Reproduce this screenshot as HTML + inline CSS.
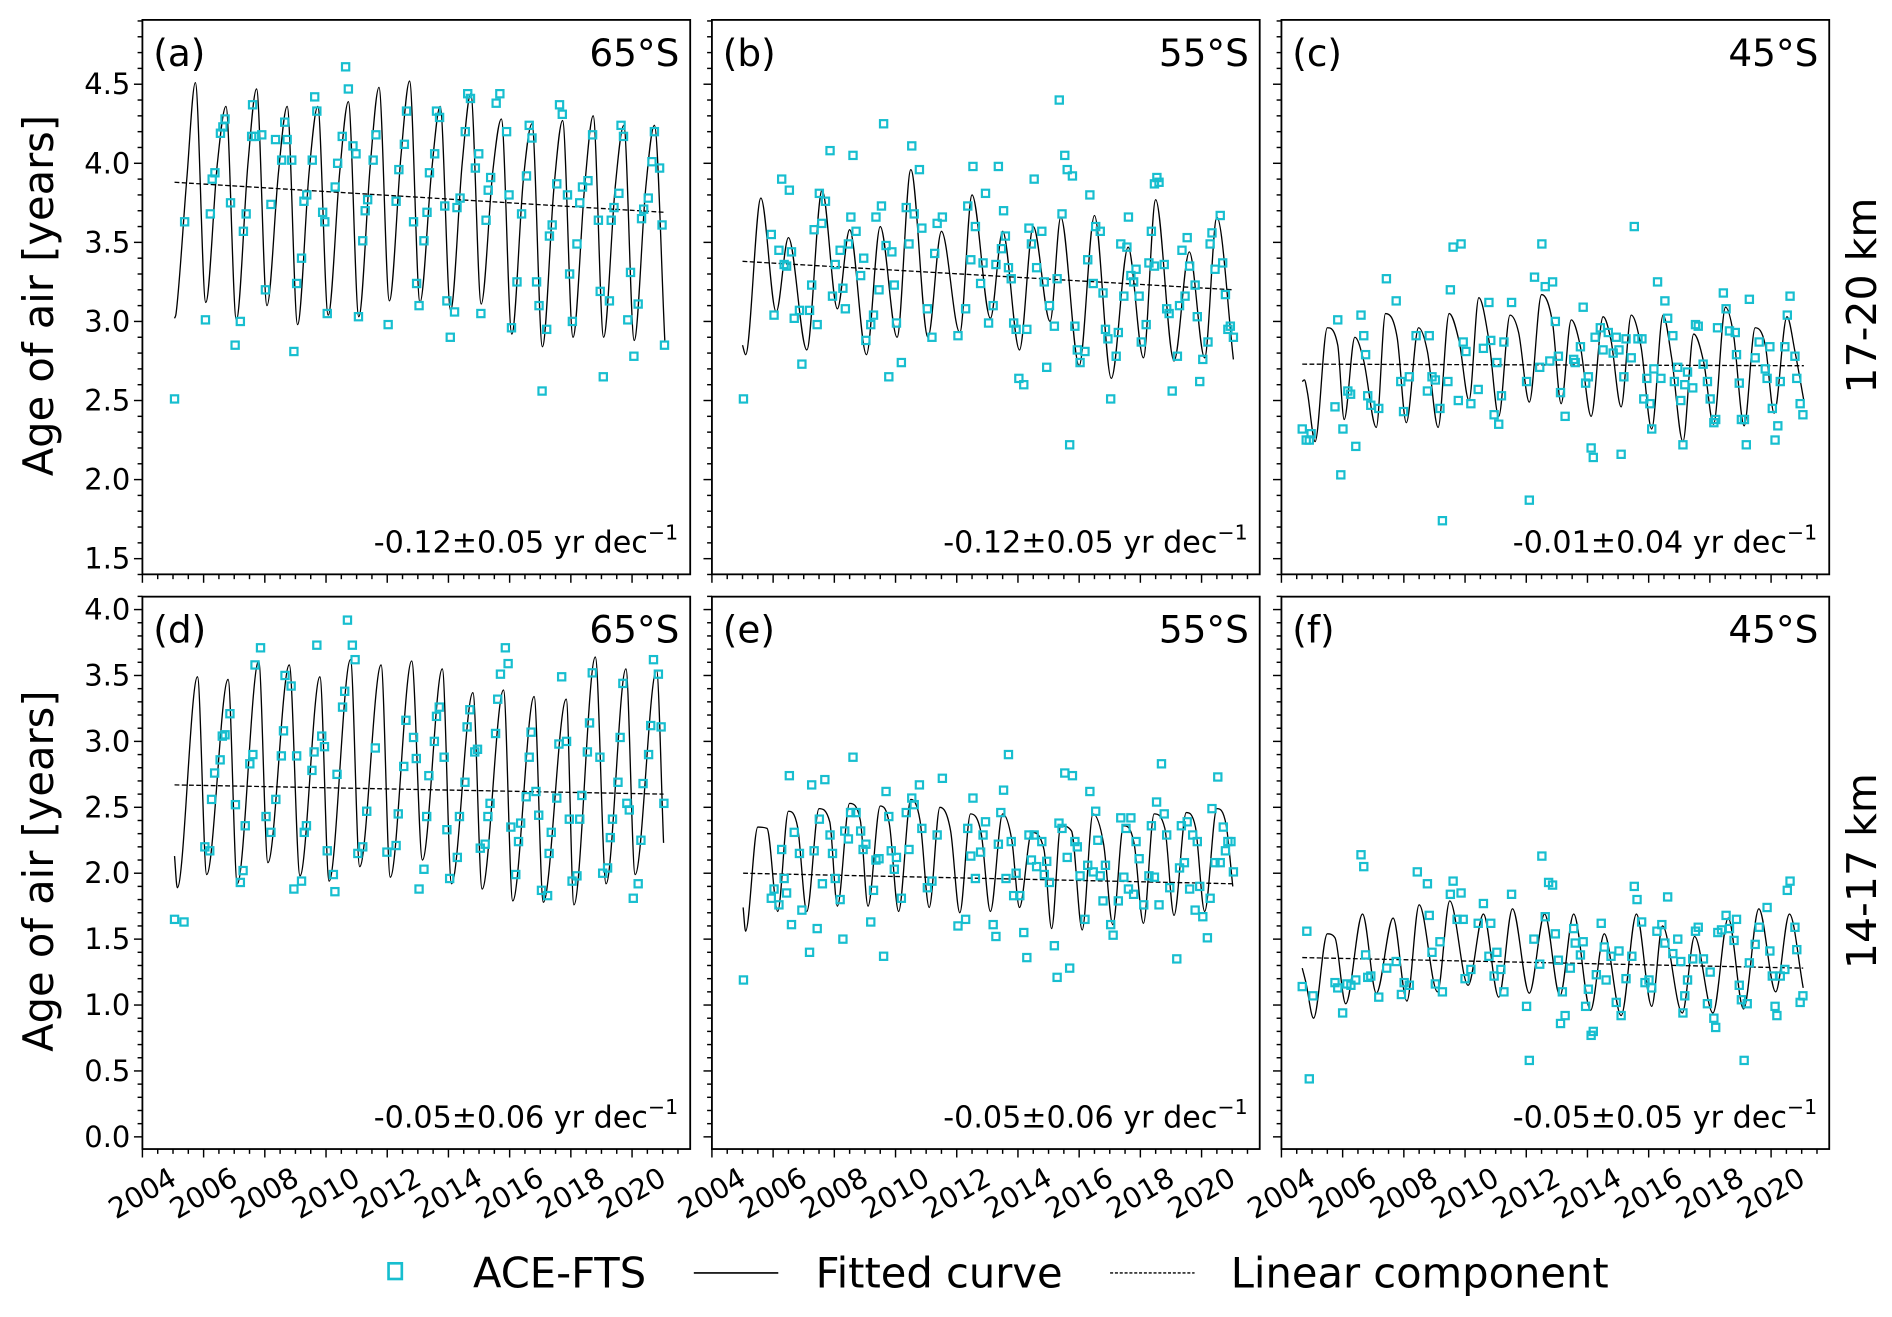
<!DOCTYPE html>
<html><head><meta charset="utf-8"><style>
html,body{margin:0;padding:0;background:#fff;}
svg{display:block;font-family:"DejaVu Sans","Liberation Sans",sans-serif;}
</style></head><body>
<svg id="fig" width="1892" height="1317" viewBox="0 0 1568 1091.5" xmlns="http://www.w3.org/2000/svg"></svg>
<script>
// ---------------- DATA ----------------
const panelLabels = ["(a)","(b)","(c)","(d)","(e)","(f)"];
const latLabels = ["65°S","55°S","45°S","65°S","55°S","45°S"];
const trendLabels = ["-0.12±0.05","-0.12±0.05","-0.01±0.04","-0.05±0.06","-0.05±0.06","-0.05±0.05"];
const rowLabels = ["17-20 km","14-17 km"];
const yTicksRow1 = [1.5,2.0,2.5,3.0,3.5,4.0,4.5];
const yTicksRow2 = [0.0,0.5,1.0,1.5,2.0,2.5,3.0,3.5,4.0];
const xTickYears = [2004,2006,2008,2010,2012,2014,2016,2018,2020];

const trendA = [2005.05,3.88,2021.06,3.69];
const trendB = [2005.0,3.38,2021.04,3.20];
const trendC = [2004.68,2.73,2021.07,2.72];
const trendD = [2005.05,2.67,2021.03,2.60];
const trendE = [2005.02,2.00,2021.02,1.92];
const trendF = [2004.68,1.36,2021.05,1.28];

const curveA_t=[2005.05,2005.1,2005.45,2005.73,2006.07,2006.45,2006.73,2007.07,2007.45,2007.73,2008.07,2008.45,2008.73,2009.07,2009.45,2009.73,2010.07,2010.45,2010.73,2011.07,2011.45,2011.73,2012.07,2012.45,2012.73,2013.07,2013.45,2013.73,2014.07,2014.45,2014.73,2015.07,2015.45,2015.73,2016.07,2016.45,2016.73,2017.07,2017.45,2017.73,2018.07,2018.45,2018.73,2019.07,2019.45,2019.73,2020.07,2020.45,2020.73,2021.07];
const curveA_v=[3.02,3.05,3.9,4.51,3.12,4.0,4.36,3.01,4.0,4.47,3.10,3.95,4.36,2.98,3.95,4.36,3.04,3.95,4.39,3.03,4.0,4.48,3.13,4.05,4.52,3.12,3.95,4.36,3.07,4.0,4.44,3.11,3.95,4.28,2.92,3.9,4.25,2.84,3.85,4.27,2.90,3.85,4.30,2.90,3.85,4.24,2.88,3.85,4.24,2.88];
const curveB_t=[2005.0,2005.1,2005.6,2006.1,2006.5,2007.1,2007.6,2008.1,2008.5,2009.05,2009.5,2010.05,2010.5,2011.06,2011.5,2012.1,2012.5,2013.1,2013.5,2014.05,2014.5,2015.05,2015.4,2016.0,2016.5,2017.05,2017.6,2018.1,2018.5,2019.1,2019.6,2020.1,2020.5,2021.04];
const curveB_v=[2.85,2.79,3.78,3.06,3.53,2.82,3.83,3.08,3.58,2.79,3.60,2.90,3.96,2.90,3.57,2.93,3.80,3.02,3.57,2.82,3.60,3.00,3.66,2.72,3.67,2.64,3.47,2.77,3.77,2.75,3.44,2.77,3.66,2.76];
const curveC_t=[2004.68,2004.75,2004.85,2005.1,2005.5,2005.84,2006.05,2006.4,2006.69,2007.1,2007.4,2007.78,2008.08,2008.48,2008.77,2009.12,2009.48,2009.81,2010.13,2010.45,2010.78,2011.1,2011.47,2011.75,2012.1,2012.5,2012.86,2013.14,2013.47,2013.77,2014.12,2014.51,2014.77,2015.1,2015.43,2015.75,2016.1,2016.47,2016.75,2017.12,2017.47,2017.8,2018.12,2018.51,2018.77,2019.12,2019.48,2019.81,2020.1,2020.52,2020.78,2021.07];
const curveC_v=[2.62,2.63,2.55,2.24,2.96,2.85,2.38,2.90,2.75,2.33,3.05,2.90,2.36,2.96,2.81,2.33,3.05,2.87,2.50,3.15,2.88,2.40,3.04,2.93,2.49,3.17,2.99,2.48,3.01,2.84,2.40,3.03,2.88,2.46,3.04,2.84,2.32,3.04,2.77,2.24,2.92,2.74,2.35,3.09,2.92,2.34,2.96,2.85,2.42,3.03,2.81,2.50];
const curveD_t=[2005.05,2005.14,2005.8,2006.1,2006.8,2007.1,2007.8,2008.1,2008.8,2009.15,2009.8,2010.1,2010.8,2011.1,2011.8,2012.1,2012.8,2013.15,2013.8,2014.1,2014.8,2015.1,2015.8,2016.1,2016.8,2017.1,2017.85,2018.1,2018.8,2019.15,2019.8,2020.1,2020.8,2021.03];
const curveD_v=[2.13,1.89,3.49,1.99,3.47,1.92,3.61,2.08,3.58,1.98,3.49,1.94,3.62,2.05,3.58,1.97,3.61,2.10,3.55,1.92,3.37,1.88,3.39,1.79,3.34,1.78,3.32,1.76,3.64,1.92,3.55,1.99,3.54,2.23];
const curveE_t=[2005.02,2005.1,2005.5,2005.8,2006.15,2006.5,2006.8,2007.1,2007.5,2007.85,2008.1,2008.5,2008.85,2009.1,2009.5,2009.8,2010.1,2010.5,2010.8,2011.1,2011.45,2011.8,2012.1,2012.45,2012.8,2013.1,2013.5,2013.8,2014.05,2014.45,2014.85,2015.1,2015.4,2015.75,2016.1,2016.45,2016.8,2017.1,2017.45,2017.8,2018.1,2018.45,2018.8,2019.1,2019.5,2019.8,2020.1,2020.5,2020.8,2021.02];
const curveE_v=[1.74,1.56,2.35,2.34,1.71,2.47,2.35,1.71,2.49,2.39,1.75,2.53,2.40,1.75,2.51,2.37,1.71,2.56,2.40,1.74,2.50,2.32,1.70,2.45,2.30,1.71,2.45,2.25,1.74,2.31,2.18,1.58,2.36,2.32,1.57,2.45,2.22,1.61,2.36,2.22,1.62,2.45,2.34,1.68,2.46,2.35,1.71,2.49,2.37,1.90];
const curveF_t=[2004.68,2004.8,2005.05,2005.5,2005.75,2006.1,2006.65,2007.1,2007.65,2008.1,2008.5,2009.1,2009.5,2010.1,2010.6,2011.1,2011.55,2012.1,2012.6,2013.1,2013.55,2014.1,2014.55,2015.1,2015.6,2016.1,2016.45,2017.1,2017.5,2018.1,2018.6,2019.1,2019.6,2020.15,2020.6,2021.05];
const curveF_v=[1.28,1.17,0.90,1.54,1.51,1.01,1.69,1.09,1.66,1.03,1.76,1.10,1.79,1.15,1.69,1.06,1.73,1.09,1.69,1.07,1.69,0.96,1.54,0.92,1.69,0.99,1.60,0.94,1.52,0.94,1.66,0.97,1.73,1.10,1.69,1.13];

const obsA_t=[2005.05,2005.38,2006.06,2006.22,2006.28,2006.37,2006.55,2006.63,2006.70,2006.88,2007.03,2007.2,2007.3,2007.39,2007.57,2007.6,2007.69,2007.9,2008.02,2008.2,2008.35,2008.55,2008.65,2008.73,2008.88,2008.95,2009.04,2009.2,2009.28,2009.37,2009.55,2009.63,2009.7,2009.89,2009.96,2010.04,2010.3,2010.38,2010.53,2010.64,2010.73,2010.88,2010.98,2011.06,2011.2,2011.28,2011.36,2011.54,2011.63,2012.03,2012.29,2012.38,2012.56,2012.63,2012.86,2012.96,2013.04,2013.2,2013.3,2013.38,2013.55,2013.61,2013.71,2013.88,2013.95,2014.06,2014.2,2014.28,2014.38,2014.55,2014.63,2014.72,2014.88,2014.99,2015.06,2015.23,2015.3,2015.38,2015.56,2015.68,2015.9,2015.98,2016.06,2016.24,2016.39,2016.55,2016.64,2016.73,2016.88,2016.96,2017.06,2017.21,2017.3,2017.39,2017.54,2017.63,2017.72,2017.89,2017.96,2018.05,2018.2,2018.29,2018.38,2018.56,2018.71,2018.9,2018.96,2019.06,2019.26,2019.32,2019.41,2019.57,2019.64,2019.72,2019.86,2019.95,2020.06,2020.2,2020.31,2020.38,2020.53,2020.65,2020.73,2020.9,2020.98,2021.06];
const obsA_v=[2.51,3.63,3.01,3.68,3.90,3.94,4.19,4.23,4.28,3.75,2.85,3.00,3.57,3.68,4.17,4.37,4.17,4.18,3.20,3.74,4.15,4.02,4.26,4.15,4.02,2.81,3.24,3.40,3.76,3.80,4.02,4.42,4.33,3.69,3.63,3.05,3.85,4.00,4.17,4.61,4.47,4.11,4.06,3.03,3.51,3.70,3.77,4.02,4.18,2.98,3.76,3.96,4.12,4.33,3.63,3.24,3.10,3.51,3.69,3.94,4.06,4.33,4.29,3.73,3.13,2.90,3.06,3.72,3.78,4.20,4.44,4.41,3.97,4.06,3.05,3.64,3.83,3.91,4.38,4.44,4.20,3.80,2.96,3.25,3.68,3.92,4.24,4.16,3.25,3.10,2.56,2.95,3.54,3.61,3.87,4.37,4.31,3.80,3.30,3.00,3.49,3.75,3.85,3.89,4.18,3.64,3.19,2.65,3.13,3.64,3.72,3.81,4.24,4.17,3.01,3.31,2.78,3.11,3.65,3.71,3.78,4.01,4.20,3.97,3.61,2.85];
const obsB_t=[2005.03,2005.94,2006.03,2006.19,2006.28,2006.36,2006.44,2006.53,2006.6,2006.69,2006.86,2006.94,2007.19,2007.26,2007.34,2007.44,2007.51,2007.59,2007.71,2007.86,2007.94,2008.03,2008.19,2008.28,2008.36,2008.46,2008.54,2008.61,2008.71,2008.86,2008.96,2009.03,2009.19,2009.28,2009.36,2009.46,2009.54,2009.61,2009.69,2009.78,2009.88,2009.96,2010.03,2010.19,2010.35,2010.44,2010.53,2010.61,2010.78,2010.86,2011.04,2011.19,2011.28,2011.36,2011.53,2012.04,2012.29,2012.36,2012.46,2012.53,2012.61,2012.78,2012.86,2012.94,2013.04,2013.19,2013.28,2013.36,2013.46,2013.53,2013.59,2013.69,2013.78,2013.86,2013.94,2014.03,2014.19,2014.29,2014.36,2014.44,2014.53,2014.61,2014.78,2014.86,2014.94,2015.03,2015.19,2015.28,2015.35,2015.44,2015.53,2015.61,2015.78,2015.69,2015.86,2015.94,2016.03,2016.19,2016.28,2016.35,2016.46,2016.54,2016.69,2016.78,2016.86,2016.94,2017.03,2017.21,2017.28,2017.36,2017.46,2017.56,2017.61,2017.69,2017.78,2017.86,2017.96,2018.03,2018.19,2018.28,2018.36,2018.46,2018.54,2018.61,2018.46,2018.78,2018.86,2018.94,2019.04,2019.21,2019.28,2019.36,2019.46,2019.53,2019.61,2019.79,2019.86,2019.94,2020.04,2020.21,2020.28,2020.34,2020.44,2020.61,2020.69,2020.78,2020.86,2020.94,2021.04];
const obsB_v=[2.51,3.55,3.04,3.45,3.90,3.36,3.35,3.83,3.44,3.02,3.07,2.73,3.07,3.23,3.58,2.98,3.81,3.62,3.76,4.08,3.16,3.36,3.45,3.21,3.08,3.49,3.66,4.05,3.57,3.29,3.40,2.88,2.98,3.04,3.66,3.20,3.73,4.25,3.48,2.65,3.44,3.23,2.99,2.74,3.72,3.49,4.11,3.68,3.96,3.59,3.08,2.90,3.43,3.62,3.66,2.91,3.08,3.73,3.39,3.98,3.60,3.24,3.37,3.81,2.99,3.10,3.36,3.98,3.46,3.70,3.54,3.34,3.27,2.99,2.95,2.64,2.60,2.95,3.59,3.49,3.90,3.34,3.57,3.25,2.71,3.10,2.97,3.27,4.40,3.68,4.05,3.96,3.92,2.22,2.97,2.82,2.74,2.81,3.39,3.80,3.24,3.60,3.57,3.18,2.95,2.89,2.51,2.78,2.93,3.49,3.16,3.47,3.66,3.29,3.25,3.33,3.16,2.87,2.98,3.37,3.57,3.87,3.91,3.88,3.35,3.36,3.08,3.05,2.56,2.78,3.10,3.45,3.16,3.53,3.35,3.23,3.03,2.62,2.76,2.87,3.49,3.56,3.33,3.67,3.37,3.17,2.95,2.97,2.90];
const obsC_t=[2004.68,2004.81,2004.91,2004.97,2005.75,2005.84,2005.94,2006.01,2006.17,2006.26,2006.43,2006.6,2006.69,2006.75,2006.82,2006.92,2007.18,2007.43,2007.75,2007.9,2007.99,2008.18,2008.4,2008.77,2008.83,2008.92,2009.03,2009.18,2009.26,2009.44,2009.52,2009.61,2009.87,2009.94,2010.03,2009.78,2010.19,2010.43,2010.6,2010.78,2010.84,2010.95,2011.04,2011.1,2011.19,2011.27,2011.52,2012.01,2012.1,2012.27,2012.44,2012.51,2012.62,2012.77,2012.86,2012.95,2013.05,2013.12,2013.27,2013.55,2013.6,2013.77,2013.86,2013.94,2014.03,2014.12,2014.19,2014.25,2014.42,2014.51,2014.68,2014.84,2014.94,2015.03,2015.1,2015.19,2015.26,2015.43,2015.53,2015.65,2015.78,2015.84,2015.94,2016.04,2016.1,2016.17,2016.29,2016.4,2016.53,2016.62,2016.79,2016.84,2016.95,2017.05,2017.12,2017.18,2017.27,2017.44,2017.53,2017.62,2017.78,2017.92,2018.01,2018.13,2018.19,2018.25,2018.44,2018.53,2018.64,2018.83,2018.87,2018.96,2019.03,2019.13,2019.19,2019.29,2019.48,2019.61,2019.81,2019.87,2019.96,2020.04,2020.13,2020.22,2020.3,2020.45,2020.53,2020.62,2020.78,2020.84,2020.95,2021.04];
const obsC_v=[2.32,2.25,2.25,2.29,2.46,3.01,2.03,2.32,2.56,2.54,2.21,3.04,2.91,2.79,2.53,2.47,2.45,3.27,3.13,2.62,2.43,2.65,2.91,2.56,2.91,2.65,2.63,2.45,1.74,2.62,3.20,3.47,3.49,2.87,2.81,2.50,2.48,2.57,2.83,3.12,2.88,2.41,2.74,2.35,2.53,2.87,3.12,2.62,1.87,3.28,2.71,3.49,3.22,2.75,3.25,3.00,2.78,2.55,2.40,2.76,2.74,2.84,3.09,2.61,2.65,2.20,2.14,2.90,2.96,2.82,2.93,2.80,2.90,2.82,2.16,2.65,2.89,2.77,3.60,2.89,2.89,2.51,2.64,2.48,2.32,2.70,3.25,2.64,3.13,3.02,2.91,2.62,2.71,2.50,2.22,2.60,2.68,2.58,2.98,2.97,2.73,2.62,2.51,2.36,2.38,2.96,3.18,3.08,2.94,2.93,2.79,2.61,2.38,2.38,2.22,3.14,2.77,2.87,2.70,2.64,2.84,2.45,2.25,2.34,2.62,2.84,3.04,3.16,2.78,2.64,2.48,2.41];
const obsD_t=[2005.05,2005.36,2006.04,2006.2,2006.26,2006.36,2006.54,2006.61,2006.7,2006.86,2007.04,2007.2,2007.29,2007.36,2007.51,2007.61,2007.68,2007.86,2008.04,2008.2,2008.36,2008.54,2008.61,2008.66,2008.86,2009.04,2008.95,2009.2,2009.29,2009.36,2009.54,2009.61,2009.7,2009.86,2009.95,2010.04,2010.24,2010.29,2010.36,2010.54,2010.61,2010.7,2010.86,2010.95,2011.04,2011.2,2011.33,2011.61,2011.99,2012.29,2012.36,2012.54,2012.61,2012.86,2012.95,2013.04,2013.2,2013.29,2013.36,2013.54,2013.61,2013.7,2013.86,2013.95,2014.04,2014.29,2014.36,2014.54,2014.61,2014.7,2014.86,2014.95,2015.04,2015.2,2015.29,2015.36,2015.54,2015.61,2015.7,2015.86,2015.95,2016.04,2016.2,2016.29,2016.36,2016.54,2016.64,2016.7,2016.86,2016.95,2017.04,2017.24,2017.29,2017.36,2017.54,2017.61,2017.7,2017.86,2017.95,2018.04,2018.2,2018.29,2018.36,2018.54,2018.61,2018.7,2018.95,2019.04,2019.2,2019.29,2019.36,2019.54,2019.61,2019.7,2019.83,2019.91,2020.04,2020.2,2020.29,2020.36,2020.54,2020.61,2020.7,2020.86,2020.95,2021.04];
const obsD_v=[1.65,1.63,2.20,2.17,2.56,2.76,2.86,3.04,3.05,3.21,2.52,1.93,2.02,2.36,2.83,2.90,3.58,3.71,2.43,2.31,2.56,2.89,3.08,3.50,3.42,2.89,1.88,1.94,2.31,2.36,2.78,2.92,3.73,3.04,2.96,2.17,1.99,1.86,2.75,3.26,3.38,3.92,3.73,3.62,2.15,2.20,2.47,2.95,2.16,2.21,2.45,2.81,3.16,3.03,2.87,1.88,2.03,2.43,2.74,3.00,3.19,3.26,2.88,2.33,1.96,2.12,2.43,2.69,3.11,3.24,2.92,2.94,2.19,2.22,2.43,2.53,3.06,3.32,3.51,3.71,3.59,2.35,1.99,2.24,2.38,2.58,2.88,3.07,2.62,2.44,1.87,1.83,2.15,2.31,2.57,2.98,3.49,3.00,2.41,1.94,1.98,2.41,2.59,2.92,3.14,3.52,2.88,2.00,2.04,2.27,2.41,2.69,3.03,3.44,2.53,2.48,1.81,1.92,2.25,2.68,2.90,3.12,3.62,3.51,3.11,2.53];
const obsE_t=[2005.03,2005.94,2006.03,2006.19,2006.28,2006.36,2006.44,2006.53,2006.6,2006.69,2006.86,2006.94,2007.19,2007.26,2007.34,2007.44,2007.51,2007.61,2007.69,2007.86,2007.94,2008.03,2008.19,2008.28,2008.34,2008.46,2008.53,2008.61,2008.71,2008.86,2008.94,2009.03,2009.19,2009.28,2009.36,2009.46,2009.61,2009.69,2009.78,2009.86,2009.96,2010.03,2010.19,2010.35,2010.44,2010.53,2010.61,2010.78,2010.86,2011.04,2011.19,2011.36,2011.53,2012.04,2012.29,2012.36,2012.46,2012.53,2012.61,2012.78,2012.86,2012.94,2013.19,2013.28,2013.36,2013.44,2013.53,2013.61,2013.69,2013.78,2013.86,2013.94,2014.06,2014.19,2014.29,2014.36,2014.44,2014.53,2014.61,2014.78,2014.86,2014.94,2015.03,2015.19,2015.28,2015.34,2015.44,2015.53,2015.61,2015.69,2015.78,2015.86,2015.94,2016.03,2016.19,2016.28,2016.35,2016.46,2016.54,2016.61,2016.69,2016.78,2016.86,2017.03,2017.11,2017.28,2017.36,2017.46,2017.53,2017.61,2017.69,2017.78,2017.86,2017.96,2018.11,2018.28,2018.36,2018.46,2018.53,2018.61,2018.69,2018.78,2018.86,2018.96,2019.19,2019.28,2019.34,2019.44,2019.53,2019.61,2019.71,2019.79,2019.86,2019.94,2020.04,2020.19,2020.28,2020.34,2020.44,2020.53,2020.61,2020.71,2020.78,2020.86,2020.96,2021.04];
const obsE_v=[1.19,1.81,1.88,1.76,2.18,1.96,1.85,2.74,1.61,2.31,2.15,1.72,1.40,2.67,2.17,1.58,2.41,1.92,2.71,2.29,2.15,1.96,1.80,1.50,2.32,2.26,2.46,2.88,2.46,2.32,2.18,2.22,1.63,1.87,2.10,2.11,1.37,2.62,2.43,2.17,2.03,2.12,1.81,2.46,2.18,2.57,2.52,2.67,2.34,1.89,1.94,2.29,2.72,1.60,1.65,2.34,2.13,2.57,1.96,2.16,2.29,2.39,1.61,1.52,2.22,2.46,2.63,1.96,2.90,2.24,1.83,2.00,1.83,1.55,1.36,2.29,2.10,2.29,2.05,2.24,1.99,2.09,1.93,1.45,1.21,2.38,2.34,2.76,2.12,1.28,2.74,2.24,2.20,1.98,1.65,2.06,2.62,2.01,2.47,2.25,1.98,1.79,2.06,1.61,1.53,1.79,2.42,1.97,2.34,1.88,2.42,1.84,2.24,2.11,1.76,1.98,2.36,1.97,2.54,1.76,2.83,2.45,2.29,1.89,1.35,2.04,2.36,2.08,2.39,1.88,2.29,1.72,2.24,1.90,1.67,1.51,1.81,2.49,2.08,2.73,2.08,2.35,2.17,2.24,2.24,2.01];
const obsF_t=[2004.68,2004.83,2004.91,2005.03,2005.75,2005.84,2006.0,2006.14,2006.27,2006.43,2006.6,2006.69,2006.75,2006.82,2006.92,2007.18,2007.44,2007.75,2007.92,2008.01,2008.18,2008.44,2008.77,2008.83,2008.92,2009.03,2009.18,2009.26,2009.52,2009.61,2009.74,2009.87,2009.94,2010.0,2010.19,2010.43,2010.6,2010.78,2010.84,2010.95,2011.04,2011.17,2011.27,2011.52,2012.01,2012.1,2012.25,2012.44,2012.51,2012.62,2012.73,2012.86,2012.95,2013.05,2013.12,2013.18,2013.27,2013.44,2013.55,2013.6,2013.77,2013.86,2013.94,2014.03,2014.12,2014.19,2014.29,2014.45,2014.55,2014.61,2014.77,2014.94,2015.03,2015.1,2015.26,2015.45,2015.53,2015.62,2015.77,2015.88,2016.01,2016.1,2016.27,2016.43,2016.53,2016.62,2016.79,2016.95,2017.05,2017.12,2017.18,2017.27,2017.44,2017.53,2017.62,2017.79,2017.92,2018.01,2018.13,2018.19,2018.26,2018.38,2018.53,2018.64,2018.79,2018.87,2018.96,2019.03,2019.12,2019.22,2019.29,2019.48,2019.61,2019.87,2019.96,2020.04,2020.13,2020.19,2020.3,2020.45,2020.53,2020.62,2020.78,2020.84,2020.95,2021.04];
const obsF_v=[1.14,1.56,0.44,1.07,1.17,1.13,0.94,1.16,1.15,1.19,2.14,2.05,1.38,1.21,1.22,1.06,1.28,1.33,1.08,1.17,1.15,2.01,1.92,1.68,1.40,1.16,1.48,1.10,1.84,1.94,1.65,1.85,1.65,1.20,1.27,1.62,1.77,1.37,1.62,1.22,1.40,1.27,1.10,1.84,0.99,0.58,1.50,1.31,2.13,1.67,1.93,1.91,1.54,1.34,0.86,1.10,0.92,1.28,1.58,1.47,1.38,1.48,0.99,1.12,0.77,0.80,1.23,1.62,1.44,1.19,1.37,1.02,1.41,0.92,1.20,1.37,1.90,1.80,1.63,1.17,1.19,1.13,1.56,1.61,1.47,1.82,1.39,1.50,1.33,0.94,1.07,1.19,1.35,1.56,1.59,1.35,1.01,1.25,0.90,0.83,1.55,1.57,1.68,1.58,1.49,1.65,1.15,1.04,0.58,1.01,1.32,1.46,1.59,1.74,1.41,1.22,0.99,0.92,1.22,1.27,1.87,1.94,1.59,1.42,1.02,1.07];

// ---------------- LAYOUT ----------------
const NS="http://www.w3.org/2000/svg";
const svg=document.getElementById('fig');
const colX=[118,590,1062], PW=454;
const rows=[{top:16.5,bot:476,y0:69.8,v0:4.5,k:131.07,lo:1.4,hi:4.9,ticks:yTicksRow1},
            {top:494.5,bot:952.3,y0:505.2,v0:4.0,k:109.25,lo:0.0,hi:4.1,ticks:yTicksRow2}];
const XMIN=2004, XMAX=2021.9;
const CYAN="#17becf";
function mk(tag,attrs,parent){const e=document.createElementNS(NS,tag);for(const a in attrs)e.setAttribute(a,attrs[a]);(parent||svg).appendChild(e);return e;}
function xs(col,t){return colX[col]+(t-XMIN)/(XMAX-XMIN)*PW;}
function ys(row,v){const r=rows[row];return r.y0+(r.v0-v)*r.k;}
function monotonePath(P){
  const n=P.length; if(n<2)return '';
  const dx=[],m=[],s=[];
  for(let i=0;i<n-1;i++){dx[i]=P[i+1][0]-P[i][0];s[i]=(P[i+1][1]-P[i][1])/dx[i];}
  m[0]=s[0];m[n-1]=s[n-2];
  for(let i=1;i<n-1;i++){m[i]=(s[i-1]*s[i]<=0)?0:(s[i-1]+s[i])/2;}
  for(let i=0;i<n-1;i++){if(s[i]===0){m[i]=0;m[i+1]=0;continue;}const a=m[i]/s[i],b=m[i+1]/s[i],h=a*a+b*b;if(h>9){const t=3/Math.sqrt(h);m[i]=t*a*s[i];m[i+1]=t*b*s[i];}}
  let d='M'+P[0][0].toFixed(2)+','+P[0][1].toFixed(2);
  for(let i=0;i<n-1;i++){const h=dx[i]/3;d+=' C'+(P[i][0]+h).toFixed(2)+','+(P[i][1]+m[i]*h).toFixed(2)+' '+(P[i+1][0]-h).toFixed(2)+','+(P[i+1][1]-m[i+1]*h).toFixed(2)+' '+P[i+1][0].toFixed(2)+','+P[i+1][1].toFixed(2);}
  return d;
}
const panels=[
 {obsT:obsA_t,obsV:obsA_v,cT:curveA_t,cV:curveA_v,tr:trendA},
 {obsT:obsB_t,obsV:obsB_v,cT:curveB_t,cV:curveB_v,tr:trendB},
 {obsT:obsC_t,obsV:obsC_v,cT:curveC_t,cV:curveC_v,tr:trendC},
 {obsT:obsD_t,obsV:obsD_v,cT:curveD_t,cV:curveD_v,tr:trendD},
 {obsT:obsE_t,obsV:obsE_v,cT:curveE_t,cV:curveE_v,tr:trendE},
 {obsT:obsF_t,obsV:obsF_v,cT:curveF_t,cV:curveF_v,tr:trendF}];

panels.forEach((p,i)=>{
  const row=Math.floor(i/3), col=i%3, r=rows[row], x0=colX[col];
  const g=mk('g',{});
  
  
  const cid='clip'+i;
  const cp=mk('clipPath',{id:cid},g); mk('rect',{x:x0,y:r.top,width:PW,height:r.bot-r.top},cp);
  const yt=mk('g',{stroke:'#000','stroke-width':1.2},g);
  
  
  for(let k=Math.round(r.lo*10);k<=Math.round(r.hi*10);k++){
    const v=k/10, y=ys(row,v); if(y<r.top-0.5||y>r.bot+0.5)continue;
    const major=(k%5===0);
    mk('line',{x1:x0,x2:x0-(major?7:4),y1:y,y2:y},yt);
  }
  if(col===0){
    r.ticks.forEach(v=>{
      const t=mk('text',{x:x0-10,y:ys(row,v),'text-anchor':'end','dominant-baseline':'central','font-size':24},g);
      t.textContent=v.toFixed(1);
      
      
    });
  }
  const xt=mk('g',{stroke:'#000','stroke-width':1.2},g);
  
  
  for(let k=0;k*0.5+XMIN<=XMAX;k++){
    const t=XMIN+k*0.5, x=xs(col,t), major=(k%4===0);
    mk('line',{x1:x,x2:x,y1:r.bot,y2:r.bot+(major?7:4)},xt);
  }
  if(row===1){
    xTickYears.forEach(yv=>{
      const x=xs(col,yv), y=989;
      const t=mk('text',{x:x,y:y,'text-anchor':'middle','dominant-baseline':'central','font-size':23.5,transform:'rotate(-30 '+x+' '+y+')'},g);
      t.textContent=yv;
      
      
    });
  }
  const body=mk('g',{'clip-path':'url(#'+cid+')'},g);
  const tl=mk('line',{x1:xs(col,p.tr[0]),y1:ys(row,p.tr[1]),x2:xs(col,p.tr[2]),y2:ys(row,p.tr[3]),stroke:'#000','stroke-width':1.1,'stroke-dasharray':'4,2'},body);
  
  
  const pts=p.cT.map((t,j)=>[xs(col,t),ys(row,p.cV[j])]);
  const cv=mk('path',{d:monotonePath(pts),fill:'none',stroke:'#000','stroke-width':1.1},body);
  
  
  p.obsT.forEach((t,j)=>{
    const x=xs(col,t), y=ys(row,p.obsV[j]);
    const m=mk('rect',{x:x-3,y:y-3,width:6,height:6,fill:'none',stroke:CYAN,'stroke-width':1.8},body);
    
    
  });
  const fr=mk('rect',{x:x0,y:r.top,width:PW,height:r.bot-r.top,fill:'none',stroke:'#000','stroke-width':1.5},g);
  
  
  const pl=mk('text',{x:x0+9,y:r.top+38,'font-size':31},g);
  pl.textContent=panelLabels[i];
  
  
  const ll=mk('text',{x:x0+PW-9,y:r.top+38,'font-size':31,'text-anchor':'end'},g);
  ll.textContent=latLabels[i];
  
  
  const tt=mk('text',{x:x0+PW-10,y:r.bot-18,'font-size':25,'text-anchor':'end'},g);
  
  
  const s1=mk('tspan',{},tt); s1.textContent=trendLabels[i]+' yr dec';
  const s2=mk('tspan',{dy:-11,'font-size':17},tt); s2.textContent='−1';
});
[245,722].forEach((cy,ri)=>{
  const t=mk('text',{x:32,y:cy,'font-size':34.5,'text-anchor':'middle','dominant-baseline':'central',transform:'rotate(-90 32 '+cy+')'});
  t.textContent='Age of air [years]';
  
  
  const rl=mk('text',{x:1543,y:cy,'font-size':34,'text-anchor':'middle','dominant-baseline':'central',transform:'rotate(-90 1543 '+cy+')'});
  rl.textContent=rowLabels[ri];
  
  
});
const lg=mk('g',{});


const lm=mk('rect',{x:322,y:1047,width:11,height:13,fill:'none',stroke:CYAN,'stroke-width':2.2},lg);


const l1=mk('text',{x:392,y:1067,'font-size':34.5},lg); l1.textContent='ACE-FTS';


const ln=mk('line',{x1:575,x2:645,y1:1055,y2:1055,stroke:'#000','stroke-width':1.3},lg);


const l2=mk('text',{x:676,y:1067,'font-size':34.5},lg); l2.textContent='Fitted curve';


const ld=mk('line',{x1:920,x2:990,y1:1055,y2:1055,stroke:'#000','stroke-width':1.1,'stroke-dasharray':'2.5,1.5'},lg);


const l3=mk('text',{x:1020,y:1067,'font-size':34.5},lg); l3.textContent='Linear component';


</script>
</body></html>
